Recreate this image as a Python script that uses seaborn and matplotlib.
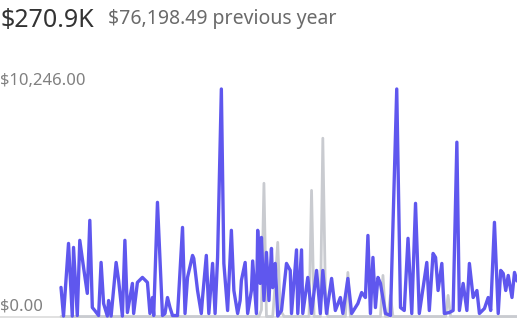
import matplotlib
matplotlib.use("Agg")
import matplotlib.pyplot as plt
import seaborn as sns
import pandas as pd

# ---- data ----
total_label = "$270.9K"
prev_label = "$76,198.49 previous year"
y_top_label = "$10,246.00"
y_zero_label = "$0.00"
y_max = 10246

cur_days = [0, 2, 6, 9, 10, 13, 15, 18, 21, 23, 25, 27, 30, 32, 34, 37, 38, 40, 44, 46,
            49, 51, 53, 57, 58, 61, 65, 69, 71, 73, 74, 77, 81, 83, 85, 87, 89, 93, 97, 99,
            101, 105, 106, 109, 112, 113, 116, 118, 121, 123, 125, 128, 130, 133, 136, 138, 141, 143, 144, 147,
            149, 152, 153, 156, 157, 159, 160, 162, 164, 166, 168, 169, 171, 173, 176, 180, 183, 184, 188, 189,
            192, 193, 197, 200, 204, 207, 209, 212, 216, 219, 223, 225, 229, 232, 237, 240, 243, 245, 247, 249,
            251, 253, 255, 259, 263, 268, 271, 274, 277, 280, 283, 286, 292, 294, 297, 299, 301, 304, 306, 310,
            313, 316, 318, 321, 324, 326, 329, 332, 334, 338, 341, 343, 346, 349, 351, 353, 355, 357, 360, 362, 364]
cur_sales = [1310, 20, 3290, 20, 3110, 45, 3430, 2210, 1040, 4330, 405, 270, 45, 2435, 585, 20, 720, 20, 2435, 1625,
             20, 3430, 180, 1490, 135, 1535, 1760, 1535, 135, 855, 45, 5140, 45, 135, 855, 405, 45, 45, 4010, 135,
             1760, 2750, 2615, 1170, 135, 855, 2750, 135, 2390, 135, 2660, 10246, 2390, 270, 3880, 1170, 135, 720, 1625, 2435,
             135, 1170, 2500, 135, 3880, 1490, 3560, 720, 2885, 720, 3065, 1300, 2390, 20, 270, 2390, 2075, 135, 3000, 135,
             3000, 135, 1760, 135, 2075, 135, 2075, 135, 1715, 270, 855, 135, 1715, 135, 585, 1080, 855, 3650, 135, 2660,
             405, 1760, 1490, 135, 45, 10246, 405, 270, 3520, 135, 5095, 135, 2435, 270, 2840, 2660, 1170, 2390, 135, 180,
             270, 7850, 270, 1490, 270, 2390, 855, 1170, 135, 360, 855, 270, 4240, 135, 2075, 1940, 1170, 1850, 855, 1985, 1600]

prev_days = [0, 158, 160, 162, 164, 169, 171, 173, 175, 178, 198, 200, 202, 207, 209, 211, 213,
             227, 229, 231, 255, 257, 259, 261, 263, 265, 307, 309, 311, 364]
prev_sales = [0, 0, 300, 6000, 0, 0, 1500, 3340, 300, 0, 0, 5680, 0, 0, 8030, 1200, 0,
              0, 1985, 0, 0, 1850, 0, 0, 950, 0, 0, 950, 0, 0]

# ---- style ----
sns.set_theme(style="white")
plt.rcParams["font.family"] = ["Noto Sans", "DejaVu Sans"]

W, H = 517, 321
fig = plt.figure(figsize=(W / 100, H / 100), dpi=100)
fig.patch.set_facecolor("white")

ax_top_px = 80
ax = fig.add_axes([0, 0, 1, (H - ax_top_px) / H])
ax.set_facecolor("none")

px_per_val = (316.5 - 89) / y_max
ax.set_ylim(-(H - 316.5) / px_per_val, y_max + (89 - ax_top_px) / px_per_val)
span_days = 364
ax.set_xlim(-61 * span_days / (517 - 61), span_days)

ax.axhline(0, color="#dcdcdc", lw=1.2, zorder=1)

prev_df = pd.DataFrame({"day": prev_days, "sales": prev_sales})
cur_df = pd.DataFrame({"day": cur_days, "sales": cur_sales})

sns.lineplot(data=prev_df, x="day", y="sales", ax=ax, color="#c9cbd0", lw=2.0,
             solid_joinstyle="round", solid_capstyle="round", zorder=2)
sns.lineplot(data=cur_df, x="day", y="sales", ax=ax, color="#5f57ee", lw=2.4,
             solid_joinstyle="round", solid_capstyle="round", zorder=3)

for s in ax.spines.values():
    s.set_visible(False)
ax.set_xticks([])
ax.set_yticks([])
ax.set_xlabel("")
ax.set_ylabel("")

fig.text(0 / W, 1 - 85 / H, y_top_label, fontsize=12, color="#808080", ha="left", va="baseline")
fig.text(0 / W, 1 - 311 / H, y_zero_label, fontsize=12, color="#808080", ha="left", va="baseline")

fig.text(0 / W, 1 - 27 / H, total_label, fontsize=18, color="#333333", ha="left", va="baseline")
fig.text(108 / W, 1 - 24 / H, prev_label, fontsize=14, color="#6a6a6a", ha="left", va="baseline")

fig.savefig("out.png", dpi=100, facecolor="white")
